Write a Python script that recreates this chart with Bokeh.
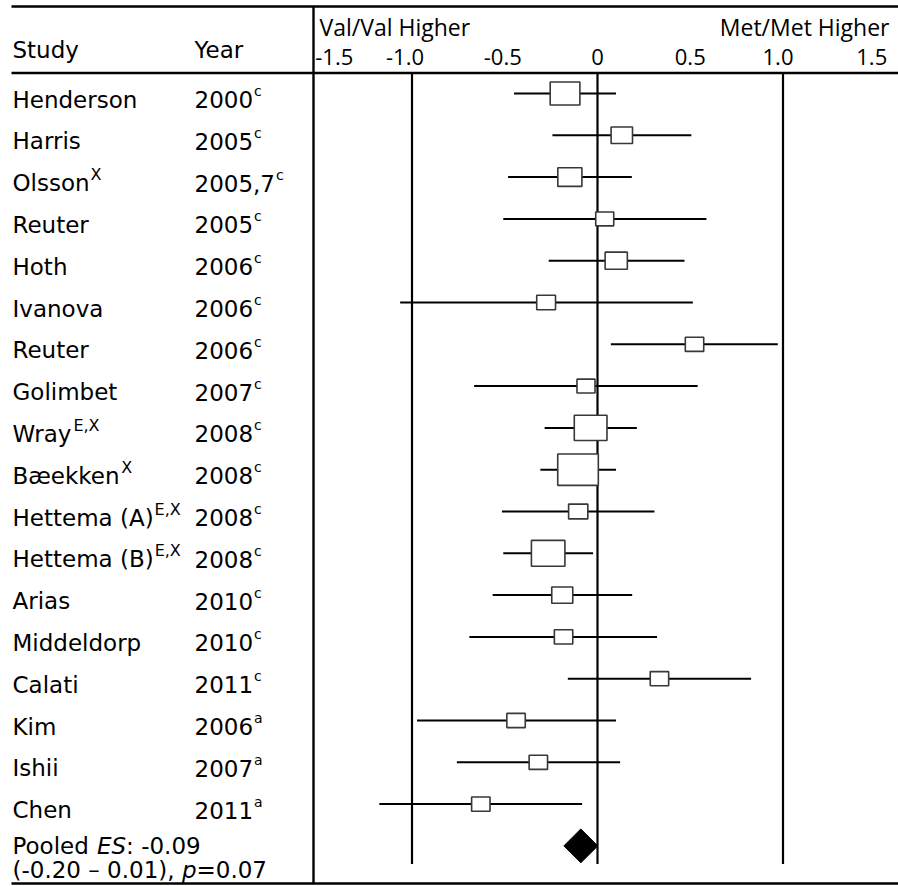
import numpy as np
from bokeh.plotting import figure
from bokeh.models import Range1d, ColumnDataSource
from bokeh.core.properties import value
from bokeh.embed import file_html
from bokeh.resources import INLINE

# ---------------- data ----------------
studies = ["Henderson", "Harris", "Olsson", "Reuter", "Hoth", "Ivanova", "Reuter",
           "Golimbet", "Wray", "Bæekken", "Hettema (A)", "Hettema (B)", "Arias",
           "Middeldorp", "Calati", "Kim", "Ishii", "Chen"]
study_sup = ["", "", "X", "", "", "", "", "", "E,X", "X", "E,X", "E,X", "", "", "", "", "", ""]
years = ["2000", "2005", "2005,7", "2005", "2006", "2006", "2006", "2007", "2008", "2008",
         "2008", "2008", "2010", "2010", "2011", "2006", "2007", "2011"]
year_sup = ["c"] * 15 + ["a"] * 3
es = [-0.175, 0.131, -0.149, 0.039, 0.101, -0.277, 0.523, -0.062, -0.037, -0.105,
      -0.104, -0.266, -0.190, -0.183, 0.334, -0.439, -0.319, -0.629]
ci_lo = [-0.45, -0.243, -0.482, -0.508, -0.263, -1.064, 0.072, -0.665, -0.285, -0.308,
         -0.515, -0.508, -0.565, -0.691, -0.160, -0.973, -0.758, -1.176]
ci_hi = [0.10, 0.506, 0.185, 0.587, 0.469, 0.514, 0.972, 0.540, 0.212, 0.100,
         0.307, -0.024, 0.187, 0.321, 0.828, 0.100, 0.122, -0.083]
weights = [29.7, 21.4, 24.1, 18.0, 22.2, 18.8, 18.4, 18.0, 32.7, 40.6,
           19.2, 33.5, 21.0, 18.4, 18.4, 18.4, 18.4, 18.4]
pooled_es = -0.09
pooled_lo = -0.20
pooled_hi = 0.01
pooled_p = 0.07
tick_values = [-1.5, -1.0, -0.5, 0.0, 0.5, 1.0, 1.5]
tick_labels = ["-1.5", "-1.0", "-0.5", "0", "0.5", "1.0", "1.5"]
ref_lines = [-1.0, 0.0, 1.0]
left_label = "Val/Val Higher"
right_label = "Met/Met Higher"

# ---------------- layout (pixels) ----------------
W, H = 898, 886
X0, XS = 597.0, 185.5          # data 0 position and pixels per unit
ROW0, ROWH = 93.0, 41.8
TOP_Y, HEAD_Y, BOT_Y = 6.0, 72.5, 883.0
SEP_X = 313.0
NAME_X, YEAR_X = 12.0, 194.0
FS = 23
SUPFS_N, SUPFS_Y = 16, 14
TXT_DY = 6
LEFT_FONT = "DejaVu Sans"
HEAD_FONT = "Open Sans"

DJ = {' ': .318, '(': .390, ')': .390, ',': .318, '-': .361, '.': .318, ':': .337, '=': .838,
      '–': .5, 'A': .684, 'B': .686, 'C': .698, 'E': .632, 'H': .752, 'I': .295, 'K': .656,
      'M': .863, 'O': .787, 'P': .603, 'R': .695, 'S': .635, 'W': .989, 'X': .686, 'Y': .611,
      'a': .613, 'b': .635, 'c': .550, 'd': .635, 'e': .615, 'g': .635, 'h': .634, 'i': .278,
      'k': .579, 'l': .278, 'm': .974, 'n': .634, 'o': .612, 'p': .635, 'r': .411, 's': .521,
      't': .392, 'u': .634, 'v': .592, 'y': .592, 'æ': .982}
for d in "0123456789":
    DJ[d] = .636


def tw(s, size):
    return sum(DJ.get(ch, 0.6) for ch in s) * size


n = len(studies)
row_y = [ROW0 + ROWH * i for i in range(n)]
pool_y = ROW0 + ROWH * n

x_range = Range1d(-X0 / XS, (W - X0) / XS)
p = figure(width=W, height=H, x_range=x_range, y_range=Range1d(H, 0),
           toolbar_location=None, output_backend="svg", min_border=0,
           x_axis_location=None, y_axis_location=None)
p.extra_x_ranges = {"px": Range1d(0, W)}
p.grid.visible = False
p.outline_line_color = None
p.background_fill_color = "white"
p.border_fill_color = "white"

# table rules
p.segment(x0=[11, 11, 11], y0=[TOP_Y, HEAD_Y, BOT_Y], x1=[W, W, W], y1=[TOP_Y, HEAD_Y, BOT_Y],
          x_range_name="px", line_color="black", line_width=2.6)
p.segment(x0=[SEP_X], y0=[TOP_Y], x1=[SEP_X], y1=[BOT_Y], x_range_name="px",
          line_color="black", line_width=2.4)

# reference vertical lines
p.segment(x0=ref_lines, y0=[HEAD_Y] * 3, x1=ref_lines, y1=[pool_y + 18] * 3,
          line_color="black", line_width=2.2)

# CIs and boxes
src = ColumnDataSource(dict(es=es, lo=ci_lo, hi=ci_hi, y=row_y, w=weights,
                            h=[w * 0.77 for w in weights]))
p.segment(x0="lo", y0="y", x1="hi", y1="y", source=src, line_color="black", line_width=2)
p.rect(x="es", y="y", width="w", height="h", width_units="screen", height_units="screen",
       source=src, fill_color="white", line_color="#383838", line_width=1.6)

# pooled diamond
p.scatter(x=[pooled_es], y=[pool_y], marker="square", angle=np.pi / 4, size=24,
          fill_color="black", line_color="black")

# header texts
p.text(x=[NAME_X, YEAR_X], y=[49, 49], text=["Study", "Year"], x_range_name="px",
       text_font=value(LEFT_FONT), text_font_size=f"{FS}px", text_baseline="alphabetic",
       text_color="black")
p.text(x=[319], y=[26], text=[left_label], x_range_name="px", text_font=value(HEAD_FONT),
       text_font_size="23px", text_baseline="alphabetic", text_color="black")
p.text(x=[889], y=[26], text=[right_label], x_range_name="px", text_font=value(HEAD_FONT),
       text_font_size="23px", text_baseline="alphabetic", text_align="right", text_color="black")
tick_dx = [15, -7, -2, 0, 0, -5, -4]
p.text(x=tick_values, y=[56] * len(tick_values), text=tick_labels, x_offset=tick_dx,
       text_font=value(HEAD_FONT), text_font_size="22px", text_baseline="alphabetic",
       text_align="center", text_color="black")

# study / year texts
p.text(x=[NAME_X] * n, y=[y + TXT_DY for y in row_y], text=studies, x_range_name="px",
       text_font=value(LEFT_FONT), text_font_size=f"{FS}px", text_baseline="alphabetic",
       text_color="black")
p.text(x=[YEAR_X] * n, y=[y + TXT_DY for y in row_y], text=years, x_range_name="px",
       text_font=value(LEFT_FONT), text_font_size=f"{FS}px", text_baseline="alphabetic",
       text_color="black")
sx, sy, st = [], [], []
for s, sup, y in zip(studies, study_sup, row_y):
    if sup:
        sx.append(NAME_X + tw(s, FS) + 1)
        sy.append(y + TXT_DY - 8.5)
        st.append(sup)
p.text(x=sx, y=sy, text=st, x_range_name="px", text_font=value(LEFT_FONT),
       text_font_size=f"{SUPFS_N}px", text_baseline="alphabetic", text_color="black")
p.text(x=[YEAR_X + tw(yr, FS) + 1 for yr in years], y=[y + TXT_DY - 8.5 for y in row_y],
       text=year_sup, x_range_name="px", text_font=value(LEFT_FONT),
       text_font_size=f"{SUPFS_Y}px", text_baseline="alphabetic", text_color="black")

# pooled summary text (segments with italics)
line1 = [("Pooled ", "normal"), ("ES", "italic"), (f": {pooled_es:.2f}", "normal")]
line2 = [(f"({pooled_lo:.2f} – {pooled_hi:.2f}), ", "normal"), ("p", "italic"),
         (f"={pooled_p:.2f}", "normal")]
for segs, by in ((line1, 845), (line2, 869)):
    x = NAME_X
    for t, style in segs:
        p.text(x=[x], y=[by], text=[t], x_range_name="px", text_font=value(LEFT_FONT),
               text_font_size=f"{FS}px", text_font_style=style, text_baseline="alphabetic",
               text_color="black")
        x += tw(t, FS)

open("out.html", "w").write(file_html(p, INLINE))
